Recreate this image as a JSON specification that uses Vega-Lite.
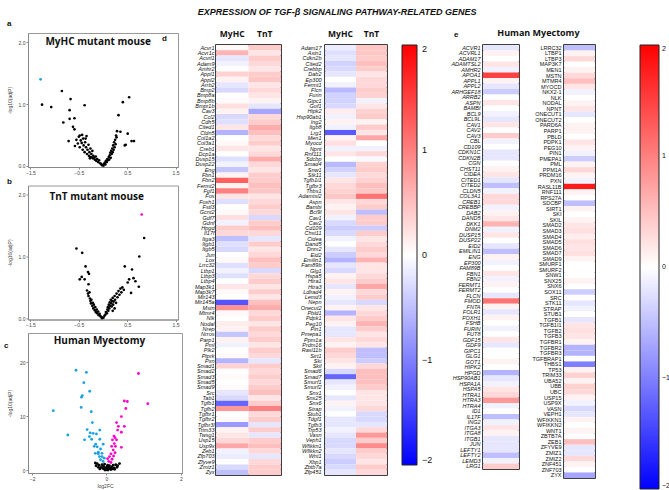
{
"$schema": "https://vega.github.io/schema/vega-lite/v6.json",
"padding": {"left": 3, "top": 7, "right": 0, "bottom": 0},
"background": "white",
"title": {"text": "EXPRESSION OF TGF-β SIGNALING PATHWAY-RELATED GENES", "fontSize": 9, "fontStyle": "italic", "fontWeight": "bold", "anchor": "middle", "offset": 3, "color": "#111"},
"config": {
  "font": "Liberation Sans",
  "view": {"stroke": null},
  "axis": {"grid": false, "labelFont": "Liberation Sans", "titleFont": "Liberation Sans"},
  "legend": {"padding": 0},
  "title": {"font": "Liberation Sans", "color": "#111"}
},
"datasets": {
"volcA": [
{"fc":-1.29,"p":1.40,"g":"down"},{"fc":-0.85,"p":1.21,"g":"ns"},{"fc":-1.26,"p":0.99,"g":"ns"},{"fc":-1.07,"p":0.95,"g":"ns"},{"fc":-0.67,"p":1.08,"g":"ns"},{"fc":-0.69,"p":0.90,"g":"ns"},{"fc":-0.38,"p":0.98,"g":"ns"},{"fc":-0.82,"p":0.70,"g":"ns"},{"fc":-0.69,"p":0.76,"g":"ns"},{"fc":-0.59,"p":0.77,"g":"ns"},{"fc":-0.62,"p":0.63,"g":"ns"},{"fc":-0.59,"p":0.59,"g":"ns"},{"fc":-0.71,"p":0.40,"g":"ns"},{"fc":-0.48,"p":0.49,"g":"ns"},{"fc":0.54,"p":1.11,"g":"ns"},{"fc":0.41,"p":1.03,"g":"ns"},{"fc":0.32,"p":0.82,"g":"ns"},{"fc":0.51,"p":0.52,"g":"ns"},{"fc":0.59,"p":0.40,"g":"ns"},{"fc":0.64,"p":0.40,"g":"ns"},{"fc":0.45,"p":0.33,"g":"ns"},{"fc":0.47,"p":0.34,"g":"ns"},{"fc":0.29,"p":0.56,"g":"ns"},{"fc":0.36,"p":0.55,"g":"ns"},{"fc":0.27,"p":0.49,"g":"ns"},
{"fc":-0.55,"p":0.42,"g":"ns"},{"fc":-0.52,"p":0.36,"g":"ns"},{"fc":-0.5,"p":0.47,"g":"ns"},{"fc":-0.48,"p":0.30,"g":"ns"},{"fc":-0.46,"p":0.41,"g":"ns"},{"fc":-0.44,"p":0.37,"g":"ns"},{"fc":-0.42,"p":0.26,"g":"ns"},{"fc":-0.41,"p":0.44,"g":"ns"},{"fc":-0.4,"p":0.33,"g":"ns"},{"fc":-0.38,"p":0.22,"g":"ns"},{"fc":-0.37,"p":0.38,"g":"ns"},{"fc":-0.35,"p":0.30,"g":"ns"},{"fc":-0.34,"p":0.48,"g":"ns"},{"fc":-0.33,"p":0.19,"g":"ns"},{"fc":-0.32,"p":0.26,"g":"ns"},{"fc":-0.3,"p":0.34,"g":"ns"},{"fc":-0.29,"p":0.16,"g":"ns"},{"fc":-0.28,"p":0.22,"g":"ns"},{"fc":-0.26,"p":0.28,"g":"ns"},{"fc":-0.25,"p":0.14,"g":"ns"},{"fc":-0.24,"p":0.19,"g":"ns"},{"fc":-0.22,"p":0.24,"g":"ns"},{"fc":-0.21,"p":0.12,"g":"ns"},{"fc":-0.2,"p":0.16,"g":"ns"},{"fc":-0.18,"p":0.13,"g":"ns"},{"fc":-0.17,"p":0.10,"g":"ns"},{"fc":-0.15,"p":0.15,"g":"ns"},{"fc":-0.14,"p":0.08,"g":"ns"},{"fc":-0.12,"p":0.11,"g":"ns"},{"fc":-0.1,"p":0.06,"g":"ns"},{"fc":-0.08,"p":0.09,"g":"ns"},{"fc":-0.06,"p":0.04,"g":"ns"},{"fc":-0.04,"p":0.03,"g":"ns"},{"fc":-0.02,"p":0.01,"g":"ns"},{"fc":-0.43,"p":0.50,"g":"ns"},{"fc":-0.58,"p":0.32,"g":"ns"},{"fc":-0.36,"p":0.44,"g":"ns"},{"fc":-0.27,"p":0.12,"g":"ns"},
{"fc":0.01,"p":0.0,"g":"ns"},{"fc":0.02,"p":0.03,"g":"ns"},{"fc":0.04,"p":0.05,"g":"ns"},{"fc":0.05,"p":0.02,"g":"ns"},{"fc":0.06,"p":0.08,"g":"ns"},{"fc":0.08,"p":0.06,"g":"ns"},{"fc":0.09,"p":0.11,"g":"ns"},{"fc":0.1,"p":0.09,"g":"ns"},{"fc":0.12,"p":0.14,"g":"ns"},{"fc":0.13,"p":0.10,"g":"ns"},{"fc":0.14,"p":0.17,"g":"ns"},{"fc":0.15,"p":0.21,"g":"ns"},{"fc":0.16,"p":0.13,"g":"ns"},{"fc":0.17,"p":0.24,"g":"ns"},{"fc":0.18,"p":0.19,"g":"ns"},{"fc":0.19,"p":0.28,"g":"ns"},{"fc":0.2,"p":0.22,"g":"ns"},{"fc":0.21,"p":0.33,"g":"ns"},{"fc":0.22,"p":0.26,"g":"ns"},{"fc":0.23,"p":0.38,"g":"ns"},{"fc":0.24,"p":0.30,"g":"ns"},{"fc":0.25,"p":0.42,"g":"ns"},{"fc":0.26,"p":0.35,"g":"ns"},{"fc":0.28,"p":0.46,"g":"ns"}
],
"volcB": [
{"fc":0.80,"p":1.68,"g":"up"},{"fc":0.85,"p":1.30,"g":"ns"},{"fc":0.75,"p":1.00,"g":"ns"},{"fc":-0.55,"p":1.13,"g":"ns"},{"fc":-0.43,"p":1.06,"g":"ns"},{"fc":-0.36,"p":0.84,"g":"ns"},{"fc":-0.31,"p":0.75,"g":"ns"},{"fc":-0.29,"p":0.72,"g":"ns"},{"fc":-0.44,"p":0.67,"g":"ns"},{"fc":-0.48,"p":0.63,"g":"ns"},{"fc":-0.38,"p":0.63,"g":"ns"},{"fc":-0.30,"p":0.55,"g":"ns"},{"fc":0.45,"p":0.84,"g":"ns"},{"fc":0.60,"p":0.79,"g":"ns"},{"fc":0.63,"p":0.65,"g":"ns"},{"fc":0.67,"p":0.60,"g":"ns"},{"fc":0.74,"p":0.51,"g":"ns"},{"fc":0.54,"p":0.63,"g":"ns"},{"fc":0.51,"p":0.58,"g":"ns"},{"fc":0.58,"p":0.41,"g":"ns"},
{"fc":-0.33,"p":0.45,"g":"ns"},{"fc":-0.31,"p":0.40,"g":"ns"},{"fc":-0.3,"p":0.36,"g":"ns"},{"fc":-0.28,"p":0.42,"g":"ns"},{"fc":-0.27,"p":0.32,"g":"ns"},{"fc":-0.26,"p":0.28,"g":"ns"},{"fc":-0.25,"p":0.24,"g":"ns"},{"fc":-0.24,"p":0.30,"g":"ns"},{"fc":-0.22,"p":0.20,"g":"ns"},{"fc":-0.21,"p":0.25,"g":"ns"},{"fc":-0.2,"p":0.16,"g":"ns"},{"fc":-0.19,"p":0.22,"g":"ns"},{"fc":-0.17,"p":0.13,"g":"ns"},{"fc":-0.16,"p":0.18,"g":"ns"},{"fc":-0.15,"p":0.10,"g":"ns"},{"fc":-0.13,"p":0.14,"g":"ns"},{"fc":-0.12,"p":0.08,"g":"ns"},{"fc":-0.1,"p":0.11,"g":"ns"},{"fc":-0.09,"p":0.05,"g":"ns"},{"fc":-0.07,"p":0.07,"g":"ns"},{"fc":-0.05,"p":0.03,"g":"ns"},{"fc":-0.03,"p":0.02,"g":"ns"},{"fc":-0.02,"p":0.0,"g":"ns"},
{"fc":0.01,"p":0.01,"g":"ns"},{"fc":0.03,"p":0.04,"g":"ns"},{"fc":0.05,"p":0.06,"g":"ns"},{"fc":0.06,"p":0.10,"g":"ns"},{"fc":0.08,"p":0.08,"g":"ns"},{"fc":0.09,"p":0.14,"g":"ns"},{"fc":0.1,"p":0.18,"g":"ns"},{"fc":0.11,"p":0.12,"g":"ns"},{"fc":0.12,"p":0.22,"g":"ns"},{"fc":0.13,"p":0.16,"g":"ns"},{"fc":0.14,"p":0.26,"g":"ns"},{"fc":0.15,"p":0.20,"g":"ns"},{"fc":0.16,"p":0.30,"g":"ns"},{"fc":0.17,"p":0.24,"g":"ns"},{"fc":0.18,"p":0.19,"g":"ns"},{"fc":0.19,"p":0.28,"g":"ns"},{"fc":0.2,"p":0.33,"g":"ns"},{"fc":0.21,"p":0.22,"g":"ns"},{"fc":0.22,"p":0.27,"g":"ns"},{"fc":0.24,"p":0.36,"g":"ns"},{"fc":0.25,"p":0.30,"g":"ns"},{"fc":0.27,"p":0.25,"g":"ns"},{"fc":0.28,"p":0.40,"g":"ns"},{"fc":0.3,"p":0.34,"g":"ns"},{"fc":0.32,"p":0.44,"g":"ns"},{"fc":0.34,"p":0.38,"g":"ns"},{"fc":0.36,"p":0.48,"g":"ns"},{"fc":0.38,"p":0.42,"g":"ns"},{"fc":0.4,"p":0.50,"g":"ns"},{"fc":0.43,"p":0.46,"g":"ns"},{"fc":0.2,"p":0.12,"g":"ns"},{"fc":0.24,"p":0.16,"g":"ns"}
],
"volcC": [
{"fc":-0.82,"p":18.5,"g":"down"},{"fc":-0.54,"p":18.1,"g":"down"},{"fc":-0.61,"p":16.2,"g":"down"},{"fc":-0.45,"p":14.6,"g":"down"},{"fc":-0.65,"p":13.8,"g":"down"},{"fc":-0.67,"p":13.5,"g":"down"},{"fc":-1.43,"p":11.0,"g":"down"},{"fc":-0.68,"p":11.6,"g":"down"},{"fc":-0.41,"p":10.8,"g":"down"},{"fc":-0.38,"p":8.8,"g":"down"},{"fc":-1.04,"p":6.5,"g":"down"},{"fc":-0.52,"p":7.5,"g":"down"},{"fc":-0.44,"p":6.9,"g":"down"},{"fc":-0.36,"p":6.8,"g":"down"},{"fc":-0.27,"p":6.7,"g":"down"},{"fc":-0.18,"p":7.4,"g":"down"},{"fc":-0.46,"p":6.2,"g":"down"},{"fc":-0.59,"p":5.6,"g":"down"},{"fc":-0.40,"p":5.7,"g":"down"},{"fc":-0.18,"p":5.7,"g":"down"},{"fc":-0.09,"p":4.8,"g":"down"},{"fc":-0.29,"p":4.8,"g":"down"},{"fc":-0.25,"p":4.3,"g":"down"},{"fc":-0.16,"p":3.9,"g":"down"},{"fc":-0.33,"p":4.4,"g":"down"},{"fc":-0.22,"p":3.3,"g":"down"},{"fc":-0.12,"p":3.1,"g":"down"},{"fc":-0.19,"p":2.5,"g":"down"},{"fc":-0.16,"p":1.9,"g":"down"},{"fc":-0.09,"p":1.6,"g":"down"},{"fc":-0.22,"p":3.0,"g":"down"},{"fc":-0.30,"p":3.1,"g":"down"},{"fc":-0.12,"p":2.5,"g":"down"},{"fc":-0.06,"p":2.2,"g":"down"},
{"fc":0.86,"p":17.9,"g":"up"},{"fc":1.11,"p":12.3,"g":"up"},{"fc":0.48,"p":12.8,"g":"up"},{"fc":0.56,"p":12.7,"g":"up"},{"fc":0.52,"p":11.4,"g":"up"},{"fc":0.40,"p":9.9,"g":"up"},{"fc":0.27,"p":8.8,"g":"up"},{"fc":0.32,"p":8.1,"g":"up"},{"fc":0.48,"p":8.1,"g":"up"},{"fc":0.30,"p":7.4,"g":"up"},{"fc":0.40,"p":7.0,"g":"up"},{"fc":0.20,"p":6.3,"g":"up"},{"fc":0.23,"p":6.0,"g":"up"},{"fc":0.16,"p":5.6,"g":"up"},{"fc":0.27,"p":5.6,"g":"up"},{"fc":0.40,"p":4.2,"g":"up"},{"fc":0.21,"p":4.9,"g":"up"},{"fc":0.24,"p":4.4,"g":"up"},{"fc":0.14,"p":4.4,"g":"up"},{"fc":0.18,"p":3.7,"g":"up"},{"fc":0.23,"p":3.2,"g":"up"},{"fc":0.12,"p":3.0,"g":"up"},{"fc":0.19,"p":2.6,"g":"up"},{"fc":0.08,"p":2.5,"g":"up"},{"fc":0.15,"p":2.0,"g":"up"},{"fc":0.06,"p":1.6,"g":"up"},{"fc":0.12,"p":1.4,"g":"up"},{"fc":0.03,"p":2.1,"g":"up"},
{"fc":-0.25,"p":1.2,"g":"ns"},{"fc":-0.2,"p":0.9,"g":"ns"},{"fc":-0.15,"p":0.5,"g":"ns"},{"fc":-0.12,"p":1.0,"g":"ns"},{"fc":-0.1,"p":0.3,"g":"ns"},{"fc":-0.08,"p":0.7,"g":"ns"},{"fc":-0.06,"p":0.2,"g":"ns"},{"fc":-0.05,"p":1.1,"g":"ns"},{"fc":-0.03,"p":0.4,"g":"ns"},{"fc":-0.02,"p":0.1,"g":"ns"},{"fc":0.0,"p":0.05,"g":"ns"},{"fc":0.01,"p":0.6,"g":"ns"},{"fc":0.02,"p":0.25,"g":"ns"},{"fc":0.03,"p":0.9,"g":"ns"},{"fc":0.05,"p":0.15,"g":"ns"},{"fc":0.06,"p":0.45,"g":"ns"},{"fc":0.08,"p":0.8,"g":"ns"},{"fc":0.1,"p":0.3,"g":"ns"},{"fc":0.12,"p":0.1,"g":"ns"},{"fc":0.14,"p":0.6,"g":"ns"},{"fc":0.16,"p":0.2,"g":"ns"},{"fc":0.18,"p":0.9,"g":"ns"},{"fc":0.2,"p":0.4,"g":"ns"},{"fc":0.22,"p":0.15,"g":"ns"},{"fc":0.25,"p":1.0,"g":"ns"},{"fc":0.28,"p":0.5,"g":"ns"},{"fc":0.3,"p":0.8,"g":"ns"},{"fc":-0.18,"p":0.2,"g":"ns"},{"fc":-0.22,"p":0.5,"g":"ns"},{"fc":-0.28,"p":0.8,"g":"ns"},{"fc":-0.04,"p":0.0,"g":"ns"},{"fc":0.04,"p":0.0,"g":"ns"},{"fc":0.35,"p":1.2,"g":"ns"},{"fc":-0.3,"p":1.3,"g":"ns"}
],
"dL": [
{"gene":"Acvr1","MyHC":0.05,"TnT":0.4},{"gene":"Acvr1c","MyHC":0.6,"TnT":0.2},{"gene":"Acvrl1","MyHC":-0.2,"TnT":0.4},{"gene":"Adam9","MyHC":-0.1,"TnT":0.3},{"gene":"Amhr2","MyHC":0,"TnT":0.2},{"gene":"Appl1","MyHC":0.35,"TnT":0.4},{"gene":"Appl2","MyHC":0.1,"TnT":0.45},{"gene":"Arrb2","MyHC":-0.2,"TnT":0.2},{"gene":"Bmp2","MyHC":-0.3,"TnT":0.3},{"gene":"Bmp8a","MyHC":0,"TnT":0.2},{"gene":"Bmp8b","MyHC":0.05,"TnT":0.1},{"gene":"Bmpr1b","MyHC":0.25,"TnT":-0.2},{"gene":"Cav3","MyHC":0.1,"TnT":-0.7},{"gene":"Ccl2","MyHC":-0.3,"TnT":0.3},{"gene":"Cdh5","MyHC":-0.25,"TnT":0.4},{"gene":"Cited1","MyHC":0.2,"TnT":0.65},{"gene":"Cldn5","MyHC":-0.6,"TnT":0.5},{"gene":"Col1a2","MyHC":0,"TnT":0.3},{"gene":"Col3a1","MyHC":0.05,"TnT":0.4},{"gene":"Creb1","MyHC":0.2,"TnT":0.2},{"gene":"Dcp1a","MyHC":0,"TnT":0.3},{"gene":"Dusp15","MyHC":-0.25,"TnT":0.65},{"gene":"Dusp22","MyHC":-0.1,"TnT":0.3},{"gene":"Eng","MyHC":-0.45,"TnT":0.2},{"gene":"Fbn1","MyHC":0.1,"TnT":0.4},{"gene":"Fbn2","MyHC":1.25,"TnT":0.4},{"gene":"Fermt2","MyHC":0.1,"TnT":0.5},{"gene":"Fgf1","MyHC":1.0,"TnT":0.45},{"gene":"Fos","MyHC":0.2,"TnT":0.2},{"gene":"Foxh1","MyHC":-0.25,"TnT":0.3},{"gene":"Fstl3","MyHC":0,"TnT":0.4},{"gene":"Gcnt2","MyHC":0.05,"TnT":0.3},{"gene":"Gdf7","MyHC":0.25,"TnT":-0.3},{"gene":"Gdnf","MyHC":-0.1,"TnT":0.4},{"gene":"Hpgd","MyHC":0.4,"TnT":0.5},{"gene":"Il17f","MyHC":0.3,"TnT":0.3},{"gene":"Itga3","MyHC":-0.5,"TnT":-0.2},{"gene":"Itgb1","MyHC":-0.25,"TnT":0.4},{"gene":"Itgb5","MyHC":-0.3,"TnT":0.2},{"gene":"Jun","MyHC":0,"TnT":0.3},{"gene":"Lox","MyHC":0.05,"TnT":0.5},{"gene":"Lrrc32","MyHC":-0.25,"TnT":0.4},{"gene":"Ltbp1","MyHC":-0.1,"TnT":-0.3},{"gene":"Ltbp3","MyHC":-0.25,"TnT":0.3},{"gene":"Ltbp4","MyHC":0,"TnT":0.4},{"gene":"Map3k1","MyHC":0.2,"TnT":0.2},{"gene":"Map3k7","MyHC":0.05,"TnT":0.4},{"gene":"Mir143","MyHC":0,"TnT":0.2},{"gene":"Mir145a","MyHC":-1.35,"TnT":0.5},{"gene":"Mstn","MyHC":0.85,"TnT":0.65},{"gene":"Mtmr4","MyHC":0.05,"TnT":0.3},{"gene":"Nlk","MyHC":0,"TnT":0.4},{"gene":"Nodal","MyHC":0.15,"TnT":0.2},{"gene":"Nrep","MyHC":0.1,"TnT":0.4},{"gene":"Nrros","MyHC":-0.45,"TnT":0.3},{"gene":"Parp1","MyHC":0.1,"TnT":0.4},{"gene":"Pml","MyHC":-0.1,"TnT":0.2},{"gene":"Plk2","MyHC":0,"TnT":0.4},{"gene":"Ptprk","MyHC":0.05,"TnT":0.3},{"gene":"Pxn","MyHC":-0.6,"TnT":-0.2},{"gene":"Smad1","MyHC":0.35,"TnT":0.4},{"gene":"Smad2","MyHC":0,"TnT":0.3},{"gene":"Smad3","MyHC":0.05,"TnT":0.4},{"gene":"Smad5","MyHC":0,"TnT":0.3},{"gene":"Smad9","MyHC":0.05,"TnT":0.4},{"gene":"Src","MyHC":-0.2,"TnT":0.5},{"gene":"Tab1","MyHC":-0.3,"TnT":0.2},{"gene":"Tgfb1","MyHC":-1.2,"TnT":0.4},{"gene":"Tgfb2","MyHC":0.8,"TnT":1.0},{"gene":"Tgfbr1","MyHC":0,"TnT":0.3},{"gene":"Tgfbr2","MyHC":0.05,"TnT":0.4},{"gene":"Tgfbr3l","MyHC":-0.8,"TnT":-0.2},{"gene":"Trim33","MyHC":0.1,"TnT":0.4},{"gene":"Twsg1","MyHC":0.2,"TnT":-0.2},{"gene":"Usp15","MyHC":0.3,"TnT":0.4},{"gene":"Usp9x","MyHC":0.7,"TnT":0.5},{"gene":"Zeb1","MyHC":-0.1,"TnT":0.3},{"gene":"Zfp703","MyHC":-0.15,"TnT":-0.2},{"gene":"Zfyve9","MyHC":0,"TnT":0.3},{"gene":"Zmiz1","MyHC":-0.3,"TnT":0.4},{"gene":"Zyx","MyHC":-0.5,"TnT":0.4}
],
"dR": [
{"gene":"Adam17","MyHC":-0.15,"TnT":0.45},{"gene":"Axin1","MyHC":-0.25,"TnT":0.45},{"gene":"Cdkn2b","MyHC":-0.2,"TnT":0.4},{"gene":"Cited2","MyHC":-0.35,"TnT":0.5},{"gene":"Crebbp","MyHC":-0.3,"TnT":0.4},{"gene":"Dab2","MyHC":-0.2,"TnT":0.2},{"gene":"Ep300","MyHC":0,"TnT":0.3},{"gene":"Fermt1","MyHC":-0.1,"TnT":0.3},{"gene":"Flcn","MyHC":-0.55,"TnT":0.4},{"gene":"Furin","MyHC":-0.35,"TnT":0.35},{"gene":"Gipc1","MyHC":-0.35,"TnT":-0.1},{"gene":"Gof1","MyHC":-0.3,"TnT":0.2},{"gene":"Hipk2","MyHC":0.15,"TnT":0.35},{"gene":"Hsp90ab1","MyHC":-0.1,"TnT":0.4},{"gene":"Ing2","MyHC":0.1,"TnT":0.1},{"gene":"Itgb8","MyHC":-0.1,"TnT":0.4},{"gene":"Lrg1","MyHC":-1.3,"TnT":0.2},{"gene":"Men1","MyHC":0.1,"TnT":0.7},{"gene":"Myocd","MyHC":0.25,"TnT":0},{"gene":"Npnt","MyHC":-0.1,"TnT":-0.1},{"gene":"Rnf111","MyHC":0.2,"TnT":0.3},{"gene":"Sdcbp","MyHC":0,"TnT":-0.05},{"gene":"Smad4","MyHC":-0.55,"TnT":0.35},{"gene":"Snw1","MyHC":-0.35,"TnT":0.4},{"gene":"Stk11","MyHC":-0.2,"TnT":0.3},{"gene":"Tgfb1i1","MyHC":0.2,"TnT":0.35},{"gene":"Tgfbr3","MyHC":0.3,"TnT":0.5},{"gene":"Thbs1","MyHC":0.35,"TnT":0.45},{"gene":"Adamtsl2","MyHC":0.45,"TnT":1.1},{"gene":"Aspn","MyHC":0.2,"TnT":0.3},{"gene":"Bambi","MyHC":0.1,"TnT":0.4},{"gene":"Bcl9l","MyHC":0.2,"TnT":-0.5},{"gene":"Cav1","MyHC":-0.1,"TnT":0.4},{"gene":"Cav2","MyHC":-0.3,"TnT":0.4},{"gene":"Cd109","MyHC":-0.4,"TnT":-0.4},{"gene":"Chst11","MyHC":-0.3,"TnT":0.4},{"gene":"Cidea","MyHC":-0.1,"TnT":0.2},{"gene":"Dand5","MyHC":0,"TnT":0.3},{"gene":"Dnm2","MyHC":-0.2,"TnT":0.4},{"gene":"Eid2","MyHC":-0.4,"TnT":0.3},{"gene":"Emilin1","MyHC":-0.6,"TnT":0.6},{"gene":"Fam89b","MyHC":-0.2,"TnT":0.2},{"gene":"Glg1","MyHC":-0.3,"TnT":0.2},{"gene":"Hspa5","MyHC":0.1,"TnT":0.3},{"gene":"Htra1","MyHC":0.2,"TnT":0.4},{"gene":"Htra3","MyHC":-0.2,"TnT":0.7},{"gene":"Ldlrad4","MyHC":0.1,"TnT":0.3},{"gene":"Lemd3","MyHC":-0.1,"TnT":0.4},{"gene":"Nepn","MyHC":-0.2,"TnT":-0.3},{"gene":"Onecut2","MyHC":0.1,"TnT":0.2},{"gene":"Pbld1","MyHC":-0.6,"TnT":0.3},{"gene":"Pdpk1","MyHC":0.2,"TnT":0.4},{"gene":"Peg10","MyHC":0.1,"TnT":0.6},{"gene":"Pin1","MyHC":-0.2,"TnT":0.4},{"gene":"Pmepa1","MyHC":-0.2,"TnT":0.2},{"gene":"Ppm1a","MyHC":0.2,"TnT":0.3},{"gene":"Prdm16","MyHC":0.1,"TnT":0.2},{"gene":"Rasl11b","MyHC":0.4,"TnT":-0.5},{"gene":"Sirt1","MyHC":0.3,"TnT":-0.5},{"gene":"Ski","MyHC":0.2,"TnT":-0.4},{"gene":"Skil","MyHC":0.1,"TnT":0.3},{"gene":"Smad6","MyHC":-0.3,"TnT":0.5},{"gene":"Smad7","MyHC":-1.2,"TnT":0.5},{"gene":"Smurf1","MyHC":-0.2,"TnT":0.5},{"gene":"Smurf2","MyHC":-0.1,"TnT":0.4},{"gene":"Snx1","MyHC":0,"TnT":0.2},{"gene":"Snx25","MyHC":-0.2,"TnT":0.2},{"gene":"Snx6","MyHC":0.1,"TnT":0.2},{"gene":"Strap","MyHC":-0.1,"TnT":0.3},{"gene":"Stub1","MyHC":0,"TnT":-0.3},{"gene":"Tdgf1","MyHC":-0.2,"TnT":-0.3},{"gene":"Tgfb3","MyHC":-0.2,"TnT":-0.2},{"gene":"Trp53","MyHC":-0.1,"TnT":0.3},{"gene":"Vasn","MyHC":-0.2,"TnT":0.8},{"gene":"Veph1","MyHC":-0.3,"TnT":0.4},{"gene":"Wfikkn1","MyHC":-0.3,"TnT":0.9},{"gene":"Wfikkn2","MyHC":-0.2,"TnT":0.4},{"gene":"Wnt1","MyHC":-0.3,"TnT":0.3},{"gene":"Xbp1","MyHC":-0.4,"TnT":0.2},{"gene":"Zbtb7a","MyHC":-0.3,"TnT":0.4},{"gene":"Zfp451","MyHC":-0.2,"TnT":0.3}
],
"eL": [
{"gene":"ACVR1","v":-0.2},{"gene":"ACVRL1","v":0.1},{"gene":"ADAM17","v":0},{"gene":"ADAMTSL2","v":0.2},{"gene":"AMHR2","v":-0.1},{"gene":"APOA1","v":1.5},{"gene":"APPL1","v":0.1},{"gene":"APPL2","v":-0.2},{"gene":"ARHGEF18","v":-0.4},{"gene":"ARRB2","v":0},{"gene":"ASPN","v":0.2},{"gene":"BAMBI","v":0},{"gene":"BCL9","v":-0.1},{"gene":"BCL9L","v":-0.2},{"gene":"CAV1","v":0.2},{"gene":"CAV2","v":0},{"gene":"CAV3","v":0.4},{"gene":"CBL","v":-0.1},{"gene":"CD109","v":0},{"gene":"CDKN1C","v":-0.2},{"gene":"CDKN2B","v":-0.2},{"gene":"CGN","v":0},{"gene":"CHST11","v":0.1},{"gene":"CIDEA","v":0.2},{"gene":"CITED1","v":-0.2},{"gene":"CITED2","v":-0.5},{"gene":"CLDN5","v":-0.1},{"gene":"COL3A1","v":0.3},{"gene":"CREB1","v":0.3},{"gene":"CREBBP","v":-0.1},{"gene":"DAB2","v":0.1},{"gene":"DAND5","v":0.2},{"gene":"DKK1","v":0.6},{"gene":"DNM2","v":-0.1},{"gene":"DUSP15","v":0.2},{"gene":"DUSP22","v":0},{"gene":"EID2","v":-0.2},{"gene":"EMILIN1","v":-0.5},{"gene":"ENG","v":0.1},{"gene":"EP300","v":-0.1},{"gene":"FAM89B","v":0},{"gene":"FBN1","v":0.2},{"gene":"FBN2","v":-0.1},{"gene":"FERMT1","v":0.1},{"gene":"FERMT2","v":0},{"gene":"FLCN","v":-0.2},{"gene":"FMOD","v":1.1},{"gene":"FNTA","v":0.1},{"gene":"FOLR1","v":-0.2},{"gene":"FOXH1","v":0.1},{"gene":"FSHB","v":0},{"gene":"FURIN","v":-0.1},{"gene":"FUT8","v":0},{"gene":"GDF15","v":0.2},{"gene":"GDF9","v":-0.2},{"gene":"GIPC1","v":0},{"gene":"GLG1","v":0},{"gene":"GOT1","v":0.1},{"gene":"HIPK2","v":0},{"gene":"HPGD","v":-0.6},{"gene":"HSP90AB1","v":-0.2},{"gene":"HSPA1A","v":-0.1},{"gene":"HSPA5","v":0.2},{"gene":"HTRA1","v":0.3},{"gene":"HTRA3","v":0.8},{"gene":"HTRA4","v":-0.1},{"gene":"ID1","v":0},{"gene":"IL17F","v":-0.5},{"gene":"ING2","v":-0.1},{"gene":"ITGA3","v":0.2},{"gene":"ITGA8","v":0.1},{"gene":"ITGB1","v":-0.2},{"gene":"JUN","v":-0.2},{"gene":"LEFTY1","v":-0.2},{"gene":"LEFTY2","v":-0.5},{"gene":"LEMD3","v":-0.1},{"gene":"LRG1","v":0.4}
],
"eR": [
{"gene":"LRRC32","v":-0.5},{"gene":"LTBP1","v":0.1},{"gene":"LTBP3","v":0.3},{"gene":"MAP3K7","v":0},{"gene":"MEN1","v":0.1},{"gene":"MSTN","v":0.3},{"gene":"MTMR4","v":0.5},{"gene":"MYOCD","v":0.2},{"gene":"NKX2-1","v":-0.1},{"gene":"NLK","v":0},{"gene":"NODAL","v":0.1},{"gene":"NPNT","v":0.2},{"gene":"ONECUT1","v":-0.2},{"gene":"ONECUT2","v":0},{"gene":"PARD6A","v":0.1},{"gene":"PARP1","v":0.1},{"gene":"PBLD","v":0},{"gene":"PDPK1","v":0.2},{"gene":"PEG10","v":0.1},{"gene":"PIN1","v":-0.1},{"gene":"PMEPA1","v":-0.4},{"gene":"PML","v":0.1},{"gene":"PPM1A","v":0.3},{"gene":"PRDM16","v":0.1},{"gene":"PXN","v":-0.1},{"gene":"RASL11B","v":1.8},{"gene":"RNF111","v":0.1},{"gene":"RPS27A","v":0},{"gene":"SDCBP","v":-0.5},{"gene":"SIRT1","v":0.1},{"gene":"SKI","v":0},{"gene":"SKIL","v":0.1},{"gene":"SMAD2","v":0.2},{"gene":"SMAD3","v":0.25},{"gene":"SMAD4","v":0.15},{"gene":"SMAD5","v":0.25},{"gene":"SMAD6","v":0.2},{"gene":"SMAD7","v":0.25},{"gene":"SMAD9","v":0.1},{"gene":"SMURF1","v":0},{"gene":"SMURF2","v":0},{"gene":"SNW1","v":0},{"gene":"SNX25","v":0.1},{"gene":"SNX6","v":0},{"gene":"SOX11","v":-0.4},{"gene":"SRC","v":0},{"gene":"STK11","v":-0.2},{"gene":"STRAP","v":-0.1},{"gene":"STUB1","v":0},{"gene":"TGFB1","v":-0.2},{"gene":"TGFB1I1","v":0.2},{"gene":"TGFB2","v":0.25},{"gene":"TGFB3","v":0.2},{"gene":"TGFBR1","v":0.1},{"gene":"TGFBR2","v":-0.6},{"gene":"TGFBR3","v":-0.6},{"gene":"TGFBRAP1","v":0},{"gene":"THBS1","v":-1.0},{"gene":"TP53","v":0.1},{"gene":"TRIM33","v":0.35},{"gene":"UBA52","v":0.1},{"gene":"UBB","v":0.35},{"gene":"UBC","v":0.3},{"gene":"USP15","v":0.1},{"gene":"USP9X","v":-0.1},{"gene":"VASN","v":-0.3},{"gene":"VEPH1","v":-0.2},{"gene":"WFIKKN1","v":0.1},{"gene":"WFIKKN2","v":0},{"gene":"WNT1","v":0.1},{"gene":"ZBTB7A","v":0},{"gene":"ZEB1","v":0.5},{"gene":"ZFYVE9","v":-0.2},{"gene":"ZMIZ1","v":-0.2},{"gene":"ZMIZ2","v":0.3},{"gene":"ZNF451","v":0.1},{"gene":"ZNF703","v":0},{"gene":"ZYX","v":-0.7}
]
},
"spacing": -22,
"resolve": {"scale": {"color": "independent"}, "legend": {"color": "independent"}},
"hconcat": [
{
 "spacing": 0.5,
 "resolve": {"scale": {"color": "independent"}, "legend": {"color": "independent"}},
 "vconcat": [
  {
   "width": 150, "height": 134,
   "view": {"stroke": "#999", "strokeWidth": 1},
   "title": {"text": "a", "anchor": "start", "frame": "bounds", "fontSize": 8, "fontWeight": "bold", "offset": 5},
   "layer": [
    {"data": {"name": "volcA"}, "mark": {"type": "circle", "size": 7, "opacity": 1},
     "encoding": {
      "x": {"field": "fc", "type": "quantitative", "scale": {"domain": [-1.55, 1.55], "nice": false, "zero": false},
            "axis": {"values": [-1.5,-1,-0.5,0,0.5,1,1.5], "format": ".1f", "labelFontSize": 5, "tickSize": 2, "labelPadding": 1, "title": null, "domainColor": "#888", "tickColor": "#888", "labelColor": "#444", "labelFlush": false, "labelOverlap": false}},
      "y": {"field": "p", "type": "quantitative", "scale": {"domain": [-0.02, 2.15], "nice": false, "zero": false},
            "axis": {"values": [0,0.5,1,1.5,2], "format": ".1f", "labelFontSize": 5, "tickSize": 2, "labelPadding": 1, "title": "-log10(adjP)", "titleFontSize": 5, "titleFontWeight": "normal", "titleColor": "#444", "titlePadding": 4, "minExtent": 12, "maxExtent": 12, "domainColor": "#888", "tickColor": "#888", "labelColor": "#444", "labelOverlap": false}},
      "color": {"field": "g", "type": "nominal", "scale": {"domain": ["ns","down","up"], "range": ["#000000","#1ba1e2","#ff00cc"]}, "legend": null}
     }},
    {"data": {"values": [{"t": "MyHC mutant mouse"}]}, "mark": {"type": "text", "font": "Open Sans", "fontSize": 10, "fontWeight": "bold", "color": "#111"},
     "encoding": {"text": {"field": "t", "type": "nominal"}, "x": {"datum": -0.1}, "y": {"datum": 2.0}}}
   ]
  },
  {
   "width": 150, "height": 134,
   "view": {"stroke": "#999", "strokeWidth": 1},
   "title": {"text": "b", "anchor": "start", "frame": "bounds", "fontSize": 8, "fontWeight": "bold", "offset": 0},
   "layer": [
    {"data": {"name": "volcB"}, "mark": {"type": "circle", "size": 7, "opacity": 1},
     "encoding": {
      "x": {"field": "fc", "type": "quantitative", "scale": {"domain": [-1.55, 1.55], "nice": false, "zero": false},
            "axis": {"values": [-1.5,-1,-0.5,0,0.5,1,1.5], "format": ".1f", "labelFontSize": 5, "tickSize": 2, "labelPadding": 1, "title": null, "domainColor": "#888", "tickColor": "#888", "labelColor": "#444", "labelFlush": false, "labelOverlap": false, "minExtent": 11}},
      "y": {"field": "p", "type": "quantitative", "scale": {"domain": [-0.02, 2.15], "nice": false, "zero": false},
            "axis": {"values": [0,0.5,1,1.5,2], "format": ".1f", "labelFontSize": 5, "tickSize": 2, "labelPadding": 1, "title": "-log10(adjP)", "titleFontSize": 5, "titleFontWeight": "normal", "titleColor": "#444", "titlePadding": 4, "minExtent": 12, "maxExtent": 12, "domainColor": "#888", "tickColor": "#888", "labelColor": "#444", "labelOverlap": false}},
      "color": {"field": "g", "type": "nominal", "scale": {"domain": ["ns","down","up"], "range": ["#000000","#1ba1e2","#ff00cc"]}, "legend": null}
     }},
    {"data": {"values": [{"t": "TnT mutant mouse"}]}, "mark": {"type": "text", "font": "Open Sans", "fontSize": 10, "fontWeight": "bold", "color": "#111"},
     "encoding": {"text": {"field": "t", "type": "nominal"}, "x": {"datum": -0.13}, "y": {"datum": 1.96}}}
   ]
  },
  {
   "width": 154, "height": 140,
   "view": {"stroke": "#999", "strokeWidth": 1},
   "title": {"text": "c", "anchor": "start", "frame": "bounds", "fontSize": 8, "fontWeight": "bold", "offset": -17, "dx": -3},
   "layer": [
    {"data": {"name": "volcC"}, "mark": {"type": "circle", "size": 8, "opacity": 1},
     "encoding": {
      "x": {"field": "fc", "type": "quantitative", "scale": {"domain": [-2.11, 2.03], "nice": false, "zero": false},
            "axis": {"values": [-2,-1,0,1,2], "format": "d", "labelFontSize": 5, "tickSize": 2, "labelPadding": 1, "title": "log2FC", "titleFontSize": 5, "titleFontWeight": "normal", "titleColor": "#444", "titlePadding": 2, "domainColor": "#888", "tickColor": "#888", "labelColor": "#444", "labelFlush": false, "labelOverlap": false}},
      "y": {"field": "p", "type": "quantitative", "scale": {"domain": [-0.55, 25.4], "nice": false, "zero": false},
            "axis": {"values": [0,5,10,15,20,25], "format": "d", "labelFontSize": 5, "tickSize": 2, "labelPadding": 1, "title": "-log10(adjP)", "titleFontSize": 5, "titleFontWeight": "normal", "titleColor": "#444", "titlePadding": 4, "minExtent": 12, "maxExtent": 12, "domainColor": "#888", "tickColor": "#888", "labelColor": "#444", "labelOverlap": false}},
      "color": {"field": "g", "type": "nominal", "scale": {"domain": ["ns","down","up"], "range": ["#000000","#1ba1e2","#ff00cc"]}, "legend": null}
     }},
    {"data": {"values": [{"t": "Human Myectomy"}]}, "mark": {"type": "text", "font": "Open Sans", "fontSize": 10, "fontWeight": "bold", "color": "#111"},
     "encoding": {"text": {"field": "t", "type": "nominal"}, "x": {"datum": -0.19}, "y": {"datum": 23.9}}}
   ]
  }
 ]
},
{
 "spacing": -6,
 "resolve": {"scale": {"color": "independent"}, "legend": {"color": "independent"}},
 "vconcat": [
  {"width": 1, "height": 1, "data": {"values": []}, "mark": "point", "view": {"stroke": null}},
  {
   "spacing": 0,
   "resolve": {"scale": {"color": "independent"}, "legend": {"color": "independent"}},
   "hconcat": [
    {
     "width": 65, "height": 430,
     "data": {"name": "dL"},
     "transform": [{"fold": ["MyHC","TnT"], "as": ["col","v"]}],
     "title": {"text": "d", "anchor": "start", "frame": "bounds", "fontSize": 8, "fontWeight": "bold", "offset": -14, "dx": -14},
     "view": {"stroke": "#000", "strokeWidth": 1.5},
     "mark": {"type": "rect"},
     "encoding": {
      "x": {"field": "col", "type": "nominal", "sort": ["MyHC","TnT"], "scale": {"paddingInner": 0, "paddingOuter": 0}, "axis": {"orient": "top", "title": null, "labelAngle": 0, "ticks": false, "tickSize": 0, "domain": false, "labelFontSize": 8.5, "labelFontWeight": "bold", "labelFont": "Open Sans", "labelPadding": 7, "labelColor": "#111"}},
      "y": {"field": "gene", "type": "nominal", "sort": null, "scale": {"paddingInner": 0, "paddingOuter": 0}, "axis": {"title": null, "ticks": false, "tickSize": 0, "domain": false, "labelFontSize": 5.5, "labelFontStyle": "italic", "labelPadding": 2, "minExtent": 40, "maxExtent": 40, "labelOverlap": false, "labelColor": "#111"}},
      "color": {"field": "v", "type": "quantitative", "scale": {"type": "linear", "domain": [-2,0,2], "range": ["#0000ff","#ffffff","#ff0000"], "interpolate": "rgb", "clamp": true}, "legend": null}
     }
    },
    {
     "width": 62, "height": 430,
     "data": {"name": "dR"},
     "transform": [{"fold": ["MyHC","TnT"], "as": ["col","v"]}],
     "view": {"stroke": "#000", "strokeWidth": 1.5},
     "mark": {"type": "rect"},
     "encoding": {
      "x": {"field": "col", "type": "nominal", "sort": ["MyHC","TnT"], "scale": {"paddingInner": 0, "paddingOuter": 0}, "axis": {"orient": "top", "title": null, "labelAngle": 0, "ticks": false, "tickSize": 0, "domain": false, "labelFontSize": 8.5, "labelFontWeight": "bold", "labelFont": "Open Sans", "labelPadding": 7, "labelColor": "#111"}},
      "y": {"field": "gene", "type": "nominal", "sort": null, "scale": {"paddingInner": 0, "paddingOuter": 0}, "axis": {"title": null, "ticks": false, "tickSize": 0, "domain": false, "labelFontSize": 5.5, "labelFontStyle": "italic", "labelPadding": 4, "minExtent": 42, "maxExtent": 42, "labelOverlap": false, "labelColor": "#111"}},
      "color": {"field": "v", "type": "quantitative", "scale": {"type": "linear", "domain": [-2,0,2], "range": ["#0000ff","#ffffff","#ff0000"], "interpolate": "rgb", "clamp": true},
        "legend": {"orient": "right", "offset": 15, "gradientLength": 420, "gradientThickness": 15, "values": [-2,-1,0,1,2], "format": "d", "title": null, "labelFontSize": 9, "labelOffset": 5, "labelBaseline": "middle", "labelOverlap": false, "gradientStrokeColor": "#222", "gradientStrokeWidth": 1, "padding": 0, "labelColor": "#111"}}
     }
    },
    {
     "spacing": 0,
     "resolve": {"scale": {"color": "independent"}, "legend": {"color": "independent"}},
     "title": {"text": "Human Myectomy", "anchor": "start", "frame": "bounds", "font": "Open Sans", "fontSize": 9, "fontWeight": "bold", "offset": -8, "dx": 63},
     "hconcat": [
      {
       "width": 36, "height": 424,
       "data": {"name": "eL"},
       "title": {"text": "e", "anchor": "start", "frame": "bounds", "fontSize": 8, "fontWeight": "bold", "offset": 6, "dx": 19},
       "view": {"stroke": "#000", "strokeWidth": 1.5},
       "mark": {"type": "rect"},
       "encoding": {
        "y": {"field": "gene", "type": "nominal", "sort": null, "scale": {"paddingInner": 0, "paddingOuter": 0}, "axis": {"title": null, "ticks": false, "tickSize": 0, "domain": false, "labelFontSize": 5.5, "labelFontStyle": "italic", "labelPadding": 3, "minExtent": 48, "maxExtent": 48, "labelOverlap": false, "labelColor": "#111"}},
        "color": {"field": "v", "type": "quantitative", "scale": {"type": "linear", "domain": [-2,0,2], "range": ["#0000ff","#ffffff","#ff0000"], "interpolate": "rgb", "clamp": true}, "legend": null}
       }
      },
      {
       "width": 31, "height": 433,
       "data": {"name": "eR"},
       "view": {"stroke": "#000", "strokeWidth": 1.5},
       "mark": {"type": "rect"},
       "encoding": {
        "y": {"field": "gene", "type": "nominal", "sort": null, "scale": {"paddingInner": 0, "paddingOuter": 0}, "axis": {"title": null, "ticks": false, "tickSize": 0, "domain": false, "labelFontSize": 5.5, "labelPadding": 3, "minExtent": 43, "maxExtent": 43, "labelOverlap": false, "labelColor": "#111"}},
        "color": {"field": "v", "type": "quantitative", "scale": {"type": "linear", "domain": [-2,0,2], "range": ["#0000ff","#ffffff","#ff0000"], "interpolate": "rgb", "clamp": true},
          "legend": {"orient": "right", "offset": 45, "gradientLength": 444, "gradientThickness": 19, "values": [-2,-1,0,1,2], "format": "d", "title": null, "labelFontSize": 7, "labelOffset": 3, "labelBaseline": "middle", "labelOverlap": false, "gradientStrokeColor": "#222", "gradientStrokeWidth": 1, "padding": 0, "labelColor": "#111"}}
       }
      }
     ]
    }
   ]
  }
 ]
}
]
}
